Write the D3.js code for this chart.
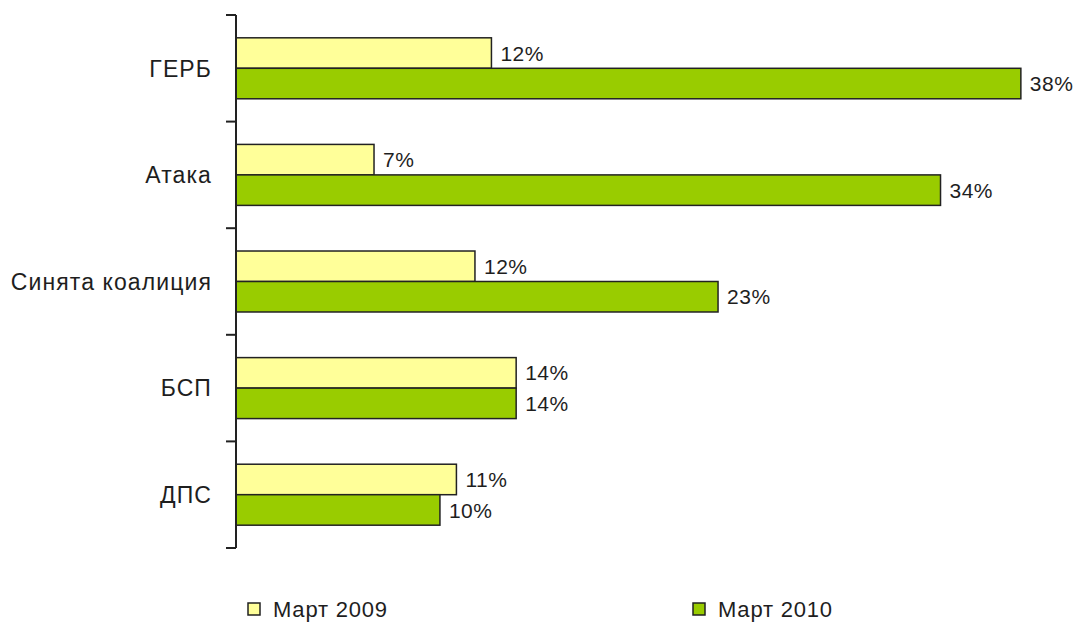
<!DOCTYPE html>
<html>
<head>
<meta charset="utf-8">
<script src="https://cdn.jsdelivr.net/npm/d3@7"></script>
<style>
  html, body { margin: 0; padding: 0; background: #fff; }
  svg { display: block; }
  text { font-family: "Liberation Sans", Arial, sans-serif; fill: #1e1e1e; }
</style>
</head>
<body>
<svg id="chart" width="1076" height="622"></svg>
<script>
// ---- data ----
const categories = ["ГЕРБ", "Атака", "Синята коалиция", "БСП", "ДПС"];
const seriesNames = ["Март 2009", "Март 2010"];
const values2009 = [12.4, 6.7, 11.6, 13.6, 10.7];
const values2010 = [38.1, 34.2, 23.4, 13.6, 9.9];
const seriesColors = ["#FFFF99", "#99CC00"];

const svg = d3.select("#chart");
const x0 = 236;

const y = d3.scaleBand()
  .domain(categories)
  .range([15, 548])
  .paddingInner(0.428)
  .paddingOuter(0.214);

const sub = d3.scaleBand()
  .domain(seriesNames)
  .range([0, y.bandwidth()]);

const x = d3.scaleLinear().domain([0, 40]).range([x0, x0 + 40 * 20.6]);

const rows = categories.map((c, i) => ({
  cat: c,
  vals: [values2009[i], values2010[i]]
}));

// bars
const g = svg.append("g");
rows.forEach(r => {
  r.vals.forEach((v, j) => {
    const s = seriesNames[j];
    g.append("rect")
      .attr("x", x(0))
      .attr("y", y(r.cat) + sub(s))
      .attr("width", x(v) - x(0))
      .attr("height", sub.bandwidth())
      .attr("fill", seriesColors[j])
      .attr("stroke", "#222")
      .attr("stroke-width", 1.5);
    g.append("text")
      .attr("x", x(v) + 9)
      .attr("y", y(r.cat) + sub(s) + sub.bandwidth() / 2)
      .attr("dy", "0.36em")
      .attr("font-size", 21)
      .attr("letter-spacing", 0.5)
      .text(Math.round(v) + "%");
  });
});

// axis line and ticks
const step = y.step();
const ticks = d3.range(categories.length + 1).map(i => 15 + i * step);
svg.append("line")
  .attr("x1", x0).attr("x2", x0)
  .attr("y1", 15).attr("y2", 548)
  .attr("stroke", "#222").attr("stroke-width", 2);
svg.selectAll(".tick").data(ticks).enter().append("line")
  .attr("x1", x0 - 10).attr("x2", x0)
  .attr("y1", d => d).attr("y2", d => d)
  .attr("stroke", "#222").attr("stroke-width", 2);

// category labels
svg.selectAll(".cat").data(categories).enter().append("text")
  .attr("x", 212)
  .attr("y", d => y(d) + y.bandwidth() / 2)
  .attr("dy", "0.36em")
  .attr("text-anchor", "end")
  .attr("font-size", 23)
  .attr("letter-spacing", 1.1)
  .text(d => d);

// legend
const legendX = [248, 693];
seriesNames.forEach((s, j) => {
  svg.append("rect")
    .attr("x", legendX[j]).attr("y", 603)
    .attr("width", 12).attr("height", 12)
    .attr("fill", seriesColors[j])
    .attr("stroke", "#222").attr("stroke-width", 1.5);
  svg.append("text")
    .attr("x", legendX[j] + 25).attr("y", 609)
    .attr("dy", "0.36em")
    .attr("font-size", 22)
    .attr("letter-spacing", 0.8)
    .text(s);
});
</script>
</body>
</html>
